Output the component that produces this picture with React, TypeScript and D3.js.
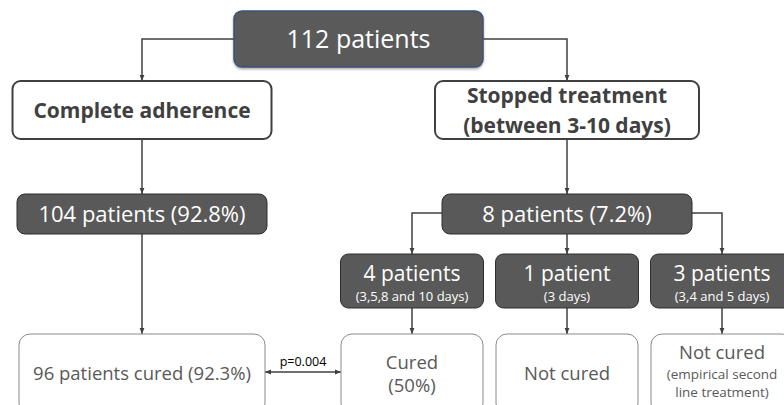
import React, { useEffect, useRef } from "react";
import * as d3 from "d3";

// Flow data
const totalPatients = 112;
const groupLabels = ["Complete adherence", "Stopped treatment\n(between 3-10 days)"];
const groupCounts = [104, 8];
const groupPercents = [92.8, 7.2];
const subgroupCounts = [4, 1, 3];
const subgroupDays = ["3,5,8 and 10 days", "3 days", "3,4 and 5 days"];
const adherenceOutcome = "96 patients cured (92.3%)";
const stoppedOutcomes = ["Cured\n(50%)", "Not cured", "Not cured"];
const stoppedOutcomeNotes = ["", "", "(empirical second\nline treatment)"];
const pValueLabel = "p=0.004";

const FONT = "'Open Sans', sans-serif";
const LINE = "#404040";

export default function App() {
  const svgRef = useRef<SVGSVGElement | null>(null);

  useEffect(() => {
    document.body.style.margin = "0";
    if (!svgRef.current) return;
    const svg = d3.select(svgRef.current);
    svg.selectAll("*").remove();

    // layout scales
    const rows = ["root", "group", "count", "sub", "outcome"];
    const rowTop = d3.scaleOrdinal<string, number>().domain(rows).range([11, 81, 194, 254, 334]);
    const rowH = d3.scaleOrdinal<string, number>().domain(rows).range([56, 58, 40, 54, 80]);
    const groupX = d3.scalePoint<string>().domain(groupLabels).range([142, 567]);
    const subKeys = subgroupCounts.map((_, i) => `s${i}`);
    const subX = d3.scalePoint<string>().domain(subKeys).range([412, 722]);
    const rootX = 358.5;

    const defs = svg.append("defs");
    defs
      .append("marker")
      .attr("id", "arr")
      .attr("viewBox", "0 0 10 10")
      .attr("refX", 10)
      .attr("refY", 5)
      .attr("markerWidth", 6)
      .attr("markerHeight", 6)
      .attr("markerUnits", "userSpaceOnUse")
      .attr("orient", "auto-start-reverse")
      .append("path")
      .attr("d", "M0,1 L10,5 L0,9 Z")
      .attr("fill", LINE);
    const shadow = defs.append("filter").attr("id", "sh").attr("x", "-10%").attr("y", "-20%").attr("width", "120%").attr("height", "150%");
    shadow.append("feDropShadow").attr("dx", 0).attr("dy", 1.5).attr("stdDeviation", 1.2).attr("flood-color", "#000").attr("flood-opacity", 0.35);

    const edges = svg.append("g").attr("fill", "none").attr("stroke", LINE).attr("stroke-width", 1.5);
    const nodes = svg.append("g");

    const box = (cx: number, row: string, w: number, kind: "root" | "dark" | "white" | "light") => {
      const y = rowTop(row);
      const h = rowH(row);
      const r = nodes
        .append("rect")
        .attr("x", cx - w / 2)
        .attr("y", y)
        .attr("width", w)
        .attr("height", h)
        .attr("rx", kind === "light" ? 11 : 8);
      if (kind === "root") r.attr("fill", "#5a5a5a").attr("stroke", "#3d5278").attr("stroke-width", 1.5).attr("filter", "url(#sh)");
      if (kind === "dark") r.attr("fill", "#595959").attr("stroke", "#2f2f2f").attr("stroke-width", 1);
      if (kind === "white") r.attr("fill", "#fff").attr("stroke", "#404040").attr("stroke-width", 2);
      if (kind === "light") r.attr("fill", "#fff").attr("stroke", "#8a8a8a").attr("stroke-width", 1);
      return { x0: cx - w / 2, x1: cx + w / 2, y0: y, y1: y + h, cy: y + h / 2 };
    };

    const label = (x: number, y: number, text: string, size: number, color: string, weight = "normal") =>
      nodes
        .append("text")
        .attr("x", x)
        .attr("y", y)
        .attr("text-anchor", "middle")
        .attr("font-family", FONT)
        .attr("font-size", size)
        .attr("font-weight", weight)
        .attr("fill", color)
        .text(text);

    const path = (pts: [number, number][], both = false) =>
      edges
        .append("path")
        .attr("d", d3.line()(pts))
        .attr("marker-end", "url(#arr)")
        .attr("marker-start", both ? "url(#arr)" : null);

    // root
    const root = box(rootX, "root", 249, "root");
    label(rootX, root.cy + 9, `${totalPatients} patients`, 25, "#fff");

    // groups
    const groupBoxes = groupLabels.map((g, i) => {
      const cx = groupX(g)!;
      const b = box(cx, "group", i === 0 ? 259 : 264, "white");
      const lines = g.split("\n");
      if (lines.length === 1) label(cx, b.cy + 8, lines[0], 21, "#404040", "bold");
      else lines.forEach((l, j) => label(cx, b.y0 + 22 + j * 30, l, 21, "#404040", "bold"));
      const side = i === 0 ? root.x0 : root.x1;
      path([[side, root.cy], [cx, root.cy], [cx, b.y0]]);
      return b;
    });

    // counts
    const countBoxes = groupCounts.map((c, i) => {
      const cx = groupX(groupLabels[i])!;
      const b = box(cx, "count", 250, "dark");
      label(cx, b.cy + 8, `${c} patients (${groupPercents[i]}%)`, 22, "#fff");
      path([[cx, groupBoxes[i].y1], [cx, b.y0]]);
      return b;
    });

    // adherence outcome
    const lx = groupX(groupLabels[0])!;
    const out0 = box(lx, "outcome", 246, "light");
    label(lx, 380, adherenceOutcome, 18.5, "#595959");
    path([[lx, countBoxes[0].y1], [lx, out0.y0]]);

    // stopped subgroups
    const stopCount = countBoxes[1];
    const outBoxes = subKeys.map((k, i) => {
      const cx = subX(k)!;
      const b = box(cx, "sub", 143, "dark");
      label(cx, b.y0 + 27, `${subgroupCounts[i]} ${subgroupCounts[i] === 1 ? "patient" : "patients"}`, 21, "#fff");
      label(cx, b.y0 + 47, `(${subgroupDays[i]})`, 13, "#fff");
      if (i === 1) path([[cx, stopCount.y1], [cx, b.y0]]);
      else {
        const side = i === 0 ? stopCount.x0 : stopCount.x1;
        path([[side, stopCount.cy - 1], [cx, stopCount.cy - 1], [cx, b.y0]]);
      }
      const ob = box(cx, "outcome", 142, "light");
      path([[cx, b.y1], [cx, ob.y0]]);
      const main = stoppedOutcomes[i].split("\n");
      const note = stoppedOutcomeNotes[i];
      if (note) {
        label(cx, 359, main[0], 18.5, "#595959");
        note.split("\n").forEach((l, j) => label(cx, 379 + j * 18, l, 13.5, "#595959"));
      } else if (main.length > 1) {
        main.forEach((l, j) => label(cx, 369 + j * 23, l, 18.5, "#595959"));
      } else {
        label(cx, 380, main[0], 18.5, "#595959");
      }
      return ob;
    });

    // p-value comparison
    const py = 372;
    path([[out0.x1, py], [outBoxes[0].x0, py]], true);
    label((out0.x1 + outBoxes[0].x0) / 2, py - 6, pValueLabel, 12.5, "#000");
  }, []);

  return <svg ref={svgRef} width={784} height={405} style={{ display: "block", background: "#fff" }} />;
}
